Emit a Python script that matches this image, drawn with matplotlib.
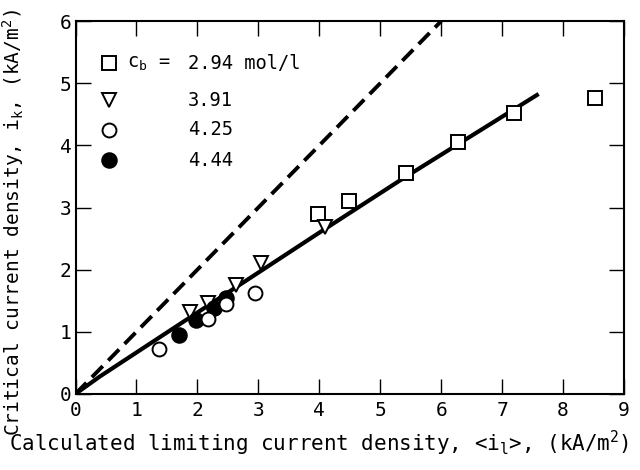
import numpy as np
import matplotlib
matplotlib.use("Agg")
import matplotlib.pyplot as plt

plt.rcParams['font.family'] = 'DejaVu Sans Mono'
plt.rcParams['mathtext.default'] = 'regular'

# data
sq_x = [3.98, 4.48, 5.42, 6.27, 7.20, 8.52]
sq_y = [2.89, 3.11, 3.56, 4.05, 4.52, 4.77]

tri_x = [1.88, 2.18, 2.64, 3.05, 4.09]
tri_y = [1.31, 1.47, 1.75, 2.10, 2.69]

open_x = [1.37, 2.17, 2.47, 2.94]
open_y = [0.72, 1.20, 1.44, 1.62]

fill_x = [1.69, 1.97, 2.28, 2.47]
fill_y = [0.94, 1.19, 1.39, 1.54]

# calculated curve (solid) and i_k = <i_l> (dashed)
calc_x = [0, 0.40, 2.81, 4.07, 5.33, 7.57]
calc_y = [0, 0.28, 1.83, 2.64, 3.44, 4.81]
ideal_x = [0, 6]
ideal_y = [0, 6]

legend_labels = ["c$_b$ = ", "2.94 mol/l", "3.91", "4.25", "4.44"]

fig = plt.figure(figsize=(6.4, 4.7), dpi=100)
ax = fig.add_axes([0.118, 0.162, 0.857, 0.793])

ax.plot(ideal_x, ideal_y, color='black', lw=2.8, linestyle=(0, (4.0, 2.0)), zorder=2)
ax.plot(calc_x, calc_y, color='black', lw=3.0, zorder=2)

mk = dict(linestyle='none', markeredgecolor='black', markeredgewidth=1.4, zorder=3)
ax.plot(sq_x, sq_y, marker='s', ms=9.5, markerfacecolor='white', **mk)
ax.plot(tri_x, tri_y, marker='v', ms=10.5, markerfacecolor='white', **mk)
ax.plot(fill_x, fill_y, marker='o', ms=10.5, markerfacecolor='black', **mk)
ax.plot(open_x, open_y, marker='o', ms=10, markerfacecolor='white', **mk)

# hand-made legend
leg_markers = [('s', 'white', 9.5), ('v', 'white', 10.5), ('o', 'white', 10), ('o', 'black', 10.5)]
rows = [0.887, 0.788, 0.708, 0.627]
for (m, fc, s), yy in zip(leg_markers, rows):
    ax.plot([0.061], [yy], marker=m, ms=s, markerfacecolor=fc, transform=ax.transAxes,
            clip_on=False, **mk)
ax.text(0.094, rows[0], legend_labels[0], transform=ax.transAxes, va='center', ha='left', fontsize=13.5)
for lab, yy in zip(legend_labels[1:], rows):
    ax.text(0.205, yy, lab, transform=ax.transAxes, va='center', ha='left', fontsize=13.5)

ax.set_xlim(0, 9)
ax.set_ylim(0, 6)
ax.set_xticks(range(0, 10))
ax.set_yticks(range(0, 7))

ax.tick_params(axis='both', which='major', direction='in', length=11, width=1.0,
               top=True, right=True, labelsize=14)
ax.tick_params(axis='x', pad=5)
ax.tick_params(axis='y', pad=3)
for s in ax.spines.values():
    s.set_linewidth(1.5)

ax.set_xlabel("Calculated limiting current density, <i$_l$>, (kA/m$^2$)", fontsize=15)
ax.set_ylabel("Critical current density, i$_k$, (kA/m$^2$)", fontsize=14)
ax.xaxis.set_label_coords(0.444, -0.095)
ax.yaxis.set_label_coords(-0.09, 0.46)

fig.savefig("out.png", dpi=100)
